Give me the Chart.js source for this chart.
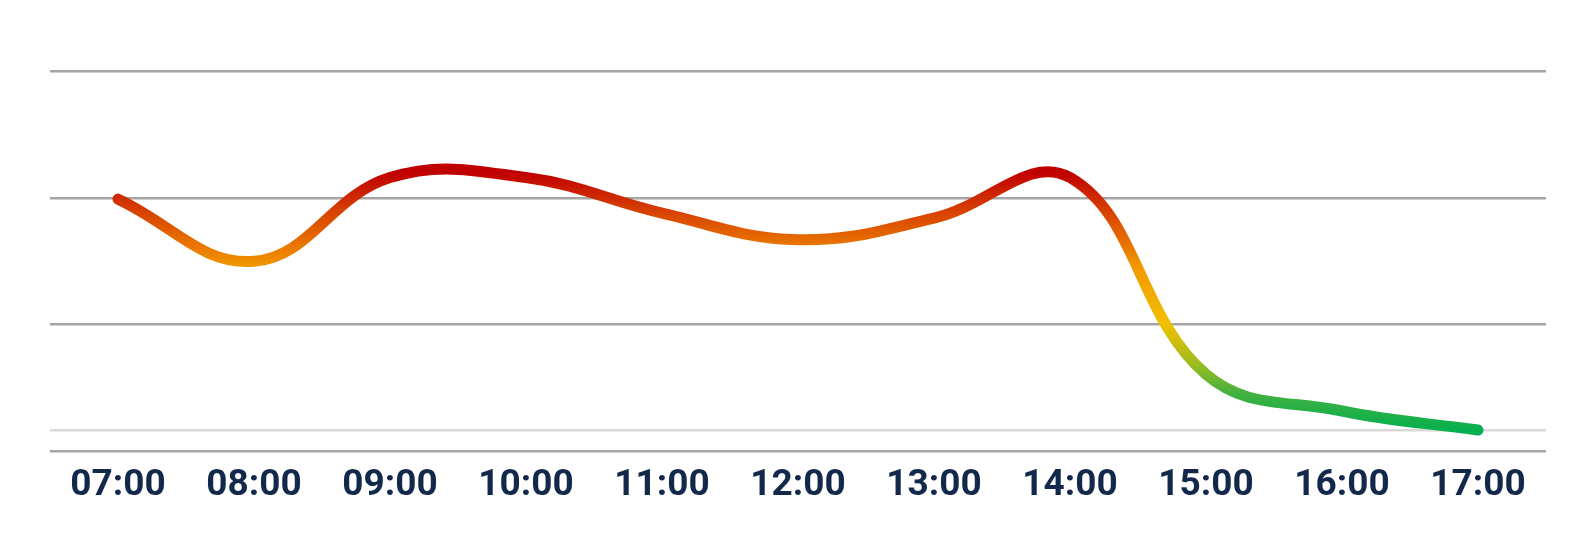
<!DOCTYPE html>
<html>
<head>
<meta charset="utf-8">
<script src="https://cdn.jsdelivr.net/npm/chart.js@4"></script>
<style>
  html, body { margin: 0; padding: 0; background: #ffffff; }
  #wrap { width: 1596px; height: 535px; }
</style>
</head>
<body>
<div id="wrap"><canvas id="myChart"></canvas></div>
<script>
const hours = ["07:00", "08:00", "09:00", "10:00", "11:00", "12:00", "13:00", "14:00", "15:00", "16:00", "17:00"];
const values = [19.9, 15.0, 21.6, 21.6, 18.8, 16.7, 18.4, 21.6, 6.1, 3.2, 1.7];
const gridTicks = [0, 10, 20, 30];
const baseline = 1.65; // light reference line near the last value

// value -> colour stops for the line gradient
const stopValues = [1.5, 4.5, 7, 10, 14.5, 16.5, 19, 22];
const stopColors = ["#00b050", "#40b040", "#a0bc20", "#f2c000", "#f29a00", "#e87000", "#d64000", "#c00000"];

function lineGradient(context) {
    const chart = context.chart;
    const { ctx, chartArea, scales } = chart;
    if (!chartArea) return stopColors[0];
    const y = scales.y;
    const y0 = y.getPixelForValue(y.min);
    const y1 = y.getPixelForValue(y.max);
    const g = ctx.createLinearGradient(0, y0, 0, y1);
    stopValues.forEach((v, i) => {
        g.addColorStop((v - y.min) / (y.max - y.min), stopColors[i]);
    });
    return g;
}

const ctx = document.getElementById('myChart').getContext('2d');
const myChart = new Chart(ctx, {
    type: 'line',
    data: {
        labels: hours,
        datasets: [{
            data: values,
            borderColor: lineGradient,
            borderWidth: 11,
            borderCapStyle: 'round',
            borderJoinStyle: 'round',
            tension: 0.4,
            pointRadius: 0,
            fill: false,
        }]
    },
    options: {
        responsive: true,
        maintainAspectRatio: false,
        animation: false,
        layout: {
            padding: { top: 71, left: 50, right: 50, bottom: 23 }
        },
        plugins: {
            legend: { display: false },
            tooltip: { enabled: false }
        },
        scales: {
            x: {
                offset: true,
                grid: { display: false },
                border: { display: false },
                ticks: {
                    color: '#13294b',
                    padding: 4,
                    font: { family: 'Roboto', size: 37, weight: 'bold' }
                }
            },
            y: {
                min: gridTicks[0],
                max: gridTicks[gridTicks.length - 1],
                afterBuildTicks: (scale) => {
                    scale.ticks = gridTicks.concat([baseline]).map(v => ({ value: v }));
                },
                grid: {
                    drawTicks: false,
                    lineWidth: 2.5,
                    color: (c) => c.tick && c.tick.value === baseline ? '#d9d9d9' : '#a5a5a5'
                },
                border: { display: false },
                ticks: { display: false }
            }
        }
    },
});
</script>
</body>
</html>
